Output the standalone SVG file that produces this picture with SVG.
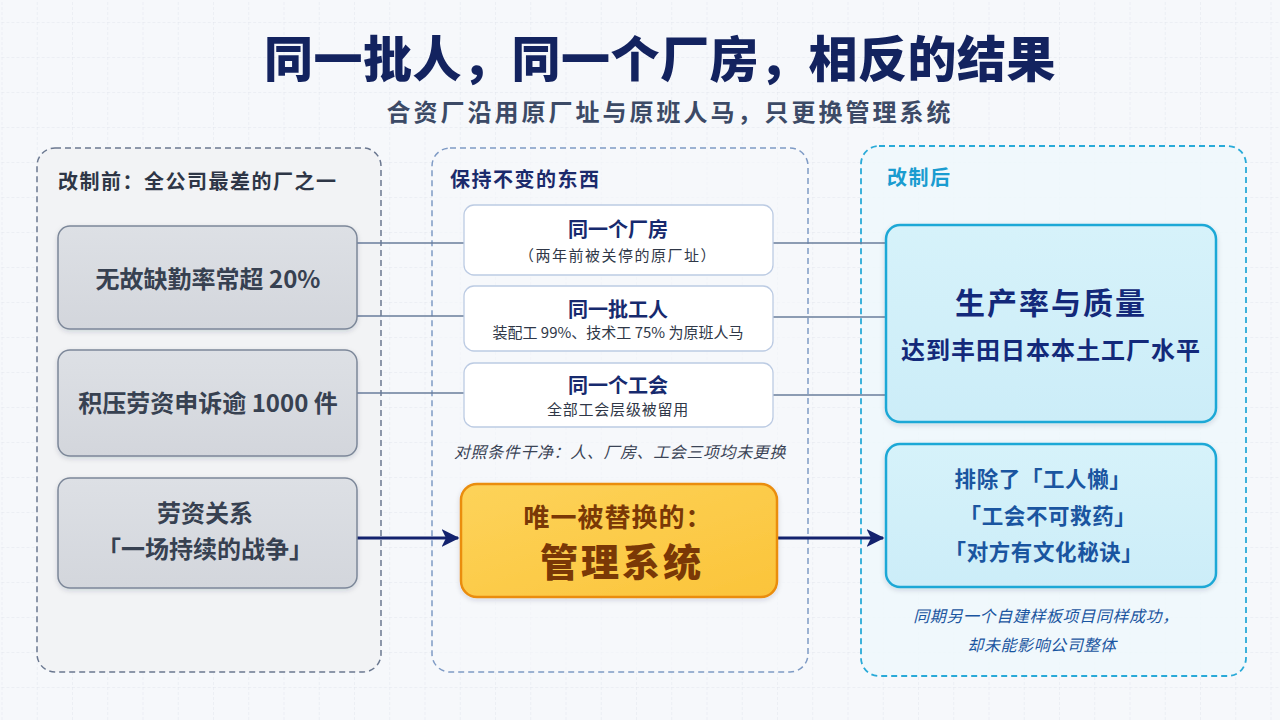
<svg xmlns="http://www.w3.org/2000/svg" width="1280" height="720" viewBox="0 0 1280 720">
<defs>
<pattern id="grid" x="1.5" y="22" width="35.25" height="35" patternUnits="userSpaceOnUse">
<path d="M0 0H35.25M0 0V35" fill="none" stroke="#e1e5ed" stroke-width="1" stroke-dasharray="3 2"/>
</pattern>
<linearGradient id="gGray" x1="0" y1="0" x2="0" y2="1">
<stop offset="0" stop-color="#dde0e5"/><stop offset="1" stop-color="#d3d6dc"/>
</linearGradient>
<linearGradient id="gOrange" x1="0" y1="0" x2="1" y2="1">
<stop offset="0" stop-color="#fdd35a"/><stop offset="1" stop-color="#fbc43a"/>
</linearGradient>
<linearGradient id="gCyan" x1="0" y1="0" x2="0" y2="1">
<stop offset="0" stop-color="#d6f2fa"/><stop offset="1" stop-color="#ccedf8"/>
</linearGradient>
<filter id="sh" x="-10%" y="-10%" width="120%" height="130%">
<feDropShadow dx="0" dy="2" stdDeviation="2.5" flood-color="#1e2a44" flood-opacity="0.15"/>
</filter>
<marker id="arr" viewBox="0 0 12 12" refX="11" refY="6" markerWidth="6" markerHeight="6" orient="auto" markerUnits="strokeWidth">
<path d="M0 0L12 6L0 12L3 6Z" fill="#13226e"/>
</marker>
</defs>
<style>
text{font-family:"Noto Sans CJK SC","Noto Sans",sans-serif;}
.t{font-weight:900;font-size:49px;fill:#13235f;text-anchor:middle;letter-spacing:0.5px}
.st{font-weight:700;font-size:24px;fill:#3c4a66;text-anchor:middle;letter-spacing:3px}
.pl{font-weight:700;font-size:20px;letter-spacing:1.5px}
.gb{fill:url(#gGray);stroke:#7c8799;stroke-width:1.5}
.gt{font-weight:700;font-size:24px;fill:#374151;text-anchor:middle}
.wb{fill:#ffffff;stroke:#bccbe3;stroke-width:1.3}
.wt{font-weight:700;font-size:20px;fill:#172a6e;text-anchor:middle}
.ws{font-weight:400;font-size:15px;fill:#2f3747;text-anchor:middle}
.it{font-style:italic;font-weight:400;font-size:16px;text-anchor:middle;letter-spacing:0.6px}
.cb{fill:url(#gCyan);stroke:#1ea8d6;stroke-width:2.5}
.ct{font-weight:700;font-size:21.5px;fill:#1a55a0;text-anchor:middle;letter-spacing:0.6px}
.thin{stroke:#6a7d9c;stroke-width:1.5;fill:none}
.thick{stroke:#13226e;stroke-width:3;fill:none}
</style>
<rect width="1280" height="720" fill="#f6f8fb"/>
<rect width="1280" height="720" fill="url(#grid)"/>

<g id="header">
<text class="t" x="660" y="77">同一批人，同一个厂房，相反的结果</text>
<text class="st" x="670" y="121">合资厂沿用原厂址与原班人马，只更换管理系统</text>
</g>

<g id="panel-before">
<rect x="37" y="148" width="344" height="524" rx="18" fill="#f2f3f5" stroke="#6b7890" stroke-width="1.5" stroke-dasharray="6 4"/>
<text class="pl" x="58" y="189" fill="#2e3646">改制前：全公司最差的厂之一</text>
</g>
<g id="panel-same">
<rect x="432" y="148" width="376" height="524" rx="18" fill="#f6f8fc" fill-opacity="0.6" stroke="#7f9bc5" stroke-width="1.5" stroke-dasharray="6 4"/>
<text class="pl" x="450" y="187" fill="#1b2a6b">保持不变的东西</text>
</g>
<g id="panel-after">
<rect x="861" y="146" width="385" height="530" rx="18" fill="#eef8fc" fill-opacity="0.85" stroke="#29aad8" stroke-width="1.8" stroke-dasharray="6 4"/>
<text class="pl" x="887" y="185" fill="#1a9cd0">改制后</text>
</g>

<g id="connectors">
<path class="thin" d="M357 243H464M357 316H464M357 393H464"/>
<path class="thin" d="M773 243H886M773 317H886M773 395H886"/>
<path class="thick" d="M357 538H458" marker-end="url(#arr)"/>
<path class="thick" d="M777 538H883" marker-end="url(#arr)"/>
</g>

<g id="n-absent">
<rect class="gb" x="58" y="226" width="299" height="103" rx="12" filter="url(#sh)"/>
<text class="gt" x="208" y="288">无故缺勤率常超 20%</text>
</g>
<g id="n-grievance">
<rect class="gb" x="58" y="350" width="299" height="106" rx="12" filter="url(#sh)"/>
<text class="gt" x="208" y="412" font-size="23.5">积压劳资申诉逾 1000 件</text>
</g>
<g id="n-relations">
<rect class="gb" x="58" y="478" width="299" height="110" rx="12" filter="url(#sh)"/>
<text class="gt" x="205" y="522">劳资关系</text>
<text class="gt" x="205" y="558">「一场持续的战争」</text>
</g>

<g id="n-plant">
<rect class="wb" x="464" y="205" width="309" height="70" rx="10"/>
<text class="wt" x="618" y="237">同一个厂房</text>
<text class="ws" x="618" y="261" font-size="15.5" letter-spacing="1.5">（两年前被关停的原厂址）</text>
</g>
<g id="n-workers">
<rect class="wb" x="464" y="286" width="309" height="65" rx="10"/>
<text class="wt" x="618" y="317">同一批工人</text>
<text class="ws" x="618" y="338">装配工 99%、技术工 75% 为原班人马</text>
</g>
<g id="n-union">
<rect class="wb" x="464" y="363" width="309" height="64" rx="10"/>
<text class="wt" x="618" y="393">同一个工会</text>
<text class="ws" x="618" y="415" font-size="15.5" letter-spacing="0.8">全部工会层级被留用</text>
</g>
<text class="it" x="620" y="458" fill="#3b4456">对照条件干净：人、厂房、工会三项均未更换</text>

<g id="n-mgmt">
<rect x="461" y="484" width="316" height="113" rx="16" fill="url(#gOrange)" stroke="#ea8d10" stroke-width="2.5" filter="url(#sh)"/>
<text x="618" y="527" font-weight="700" font-size="26" fill="#7a3806" text-anchor="middle" letter-spacing="1">唯一被替换的：</text>
<text x="622" y="576" font-weight="900" font-size="38" fill="#7a3806" text-anchor="middle" letter-spacing="3">管理系统</text>
</g>

<g id="n-result">
<rect class="cb" x="886" y="225" width="330" height="197" rx="14" filter="url(#sh)"/>
<text x="1051" y="314" font-weight="700" font-size="30" fill="#13297a" text-anchor="middle" letter-spacing="2">生产率与质量</text>
<text x="1051" y="359" font-weight="700" font-size="24" fill="#13297a" text-anchor="middle" letter-spacing="1">达到丰田日本本土工厂水平</text>
</g>
<g id="n-excluded">
<rect class="cb" x="886" y="444" width="330" height="143" rx="14" filter="url(#sh)"/>
<text class="ct" x="1043" y="487">排除了「工人懒」</text>
<text class="ct" x="1048" y="524">「工会不可救药」</text>
<text class="ct" x="1044" y="560">「对方有文化秘诀」</text>
</g>
<text class="it" x="1046" y="622" fill="#1a55a0" font-size="15" letter-spacing="2">同期另一个自建样板项目同样成功，</text>
<text class="it" x="1042" y="651" fill="#1a55a0" font-size="15" letter-spacing="2">却未能影响公司整体</text>
</svg>
